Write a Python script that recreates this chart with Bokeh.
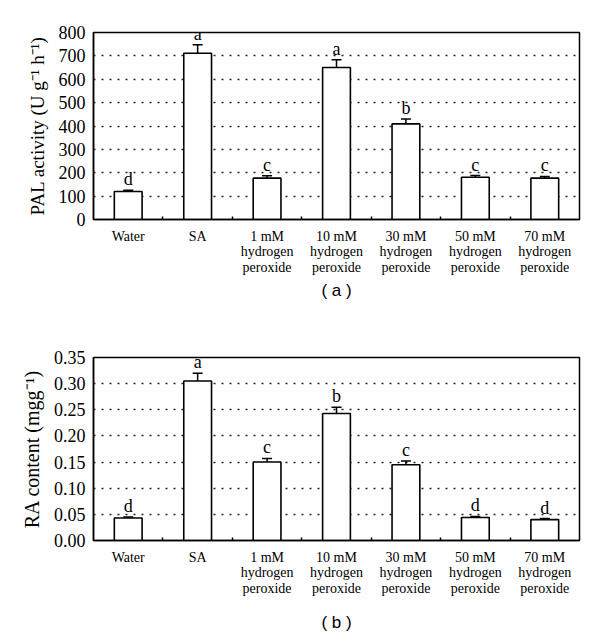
from bokeh.plotting import figure
from bokeh.layouts import column
from bokeh.models import Range1d, FixedTicker, Whisker, TeeHead, ColumnDataSource, Title, PrintfTickFormatter
from bokeh.core.properties import value
from bokeh.embed import file_html
from bokeh.resources import INLINE

categories = ["Water", "SA",
              "1 mM\nhydrogen\nperoxide", "10 mM\nhydrogen\nperoxide",
              "30 mM\nhydrogen\nperoxide", "50 mM\nhydrogen\nperoxide",
              "70 mM\nhydrogen\nperoxide"]

pal_values = [120, 711, 177, 650, 409, 181, 177]
pal_errors = [5, 37, 10, 33, 21, 7, 7]
pal_letters = ["d", "a", "c", "a", "b", "c", "c"]
pal_ticks = [0, 100, 200, 300, 400, 500, 600, 700, 800]

ra_values = [0.043, 0.305, 0.150, 0.243, 0.145, 0.044, 0.040]
ra_errors = [0.002, 0.015, 0.007, 0.012, 0.007, 0.002, 0.002]
ra_letters = ["d", "a", "c", "b", "c", "d", "d"]
ra_ticks = [0.00, 0.05, 0.10, 0.15, 0.20, 0.25, 0.30, 0.35]

SERIF = "Liberation Serif"
SANS = "Liberation Sans"


def make_panel(values, errors, letters, yticks, ylabel, caption, fmt,
               height, b_top, b_bottom, b_left, cap_standoff, label_size):
    n = len(categories)
    centers = [i + 0.5 for i in range(n)]
    bounds = [i for i in range(1, n)]
    src = ColumnDataSource(dict(
        x=centers, top=values,
        upper=[v + e for v, e in zip(values, errors)],
        lower=[v - e for v, e in zip(values, errors)],
        letter=letters))
    p = figure(width=600, height=height, output_backend="svg", toolbar_location=None,
               x_range=Range1d(0, n), y_range=Range1d(yticks[0], yticks[-1]),
               min_border_left=b_left, min_border_right=21,
               min_border_top=b_top, min_border_bottom=b_bottom)
    p.outline_line_color = "black"
    p.outline_line_width = 1.5
    p.background_fill_color = "white"
    p.border_fill_color = "white"

    p.vbar(x="x", top="top", bottom=0, width=0.4, source=src,
           fill_color="white", line_color="black", line_width=1.6)
    w = Whisker(base="x", upper="upper", lower="lower", source=src,
                line_color="black", line_width=1.5,
                upper_head=TeeHead(size=10, line_width=1.5, line_color="black"),
                lower_head=TeeHead(size=10, line_width=1.5, line_color="black"))
    p.add_layout(w)
    p.text(x="x", y="upper", text="letter", source=src, text_align="center",
           text_baseline="bottom", y_offset=-1, text_color="black",
           text_font=value(SERIF), text_font_size="18px")

    p.xgrid.grid_line_color = None
    p.ygrid.ticker = FixedTicker(ticks=yticks)
    p.ygrid.grid_line_color = "#222222"
    p.ygrid.grid_line_width = 1.5
    p.ygrid.grid_line_dash = "2 6"

    xa = p.xaxis[0]
    xa.ticker = FixedTicker(ticks=centers, minor_ticks=bounds)
    xa.major_label_overrides = {c: lab for c, lab in zip(centers, categories)}
    xa.major_tick_line_color = None
    xa.minor_tick_in = 3
    xa.minor_tick_out = 0
    xa.minor_tick_line_color = "black"
    xa.minor_tick_line_width = 1.5
    xa.axis_line_color = "black"
    xa.axis_line_width = 1.5
    xa.major_label_text_font = SERIF
    xa.major_label_text_font_size = "14px"
    xa.major_label_text_font_style = "normal"
    xa.major_label_text_line_height = 1.05
    xa.major_label_text_color = "black"
    xa.major_label_standoff = 3

    ya = p.yaxis[0]
    ya.ticker = FixedTicker(ticks=yticks)
    ya.formatter = PrintfTickFormatter(format=fmt)
    ya.major_tick_in = 0
    ya.major_tick_out = 0
    ya.minor_tick_line_color = None
    ya.axis_line_color = "black"
    ya.axis_line_width = 1.5
    ya.major_label_text_font = SERIF
    ya.major_label_text_font_size = "18px"
    ya.major_label_text_color = "black"
    ya.major_label_standoff = 8
    ya.axis_label = ylabel
    ya.axis_label_text_font = SERIF
    ya.axis_label_text_font_size = label_size
    ya.axis_label_text_font_style = "normal"
    ya.axis_label_text_color = "black"
    ya.axis_label_standoff = 8

    t = Title(text=caption, align="center", text_font=SANS, text_font_size="17px",
              text_font_style="normal", text_color="black", standoff=cap_standoff)
    p.add_layout(t, "below")
    return p


p1 = make_panel(pal_values, pal_errors, pal_letters, pal_ticks,
                "PAL activity (U g\u207b\u00b9 h\u207b\u00b9)", "( a )", "%d",
                height=310, b_top=32, b_bottom=91, b_left=90,
                cap_standoff=0, label_size="19px")
p2 = make_panel(ra_values, ra_errors, ra_letters, ra_ticks,
                "RA content (mgg\u207b\u00b9)", "( b )", "%.2f",
                height=334, b_top=47, b_bottom=104, b_left=93,
                cap_standoff=23, label_size="20px")

layout = column(p1, p2, spacing=0)
open("out.html", "w").write(file_html(layout, INLINE))
